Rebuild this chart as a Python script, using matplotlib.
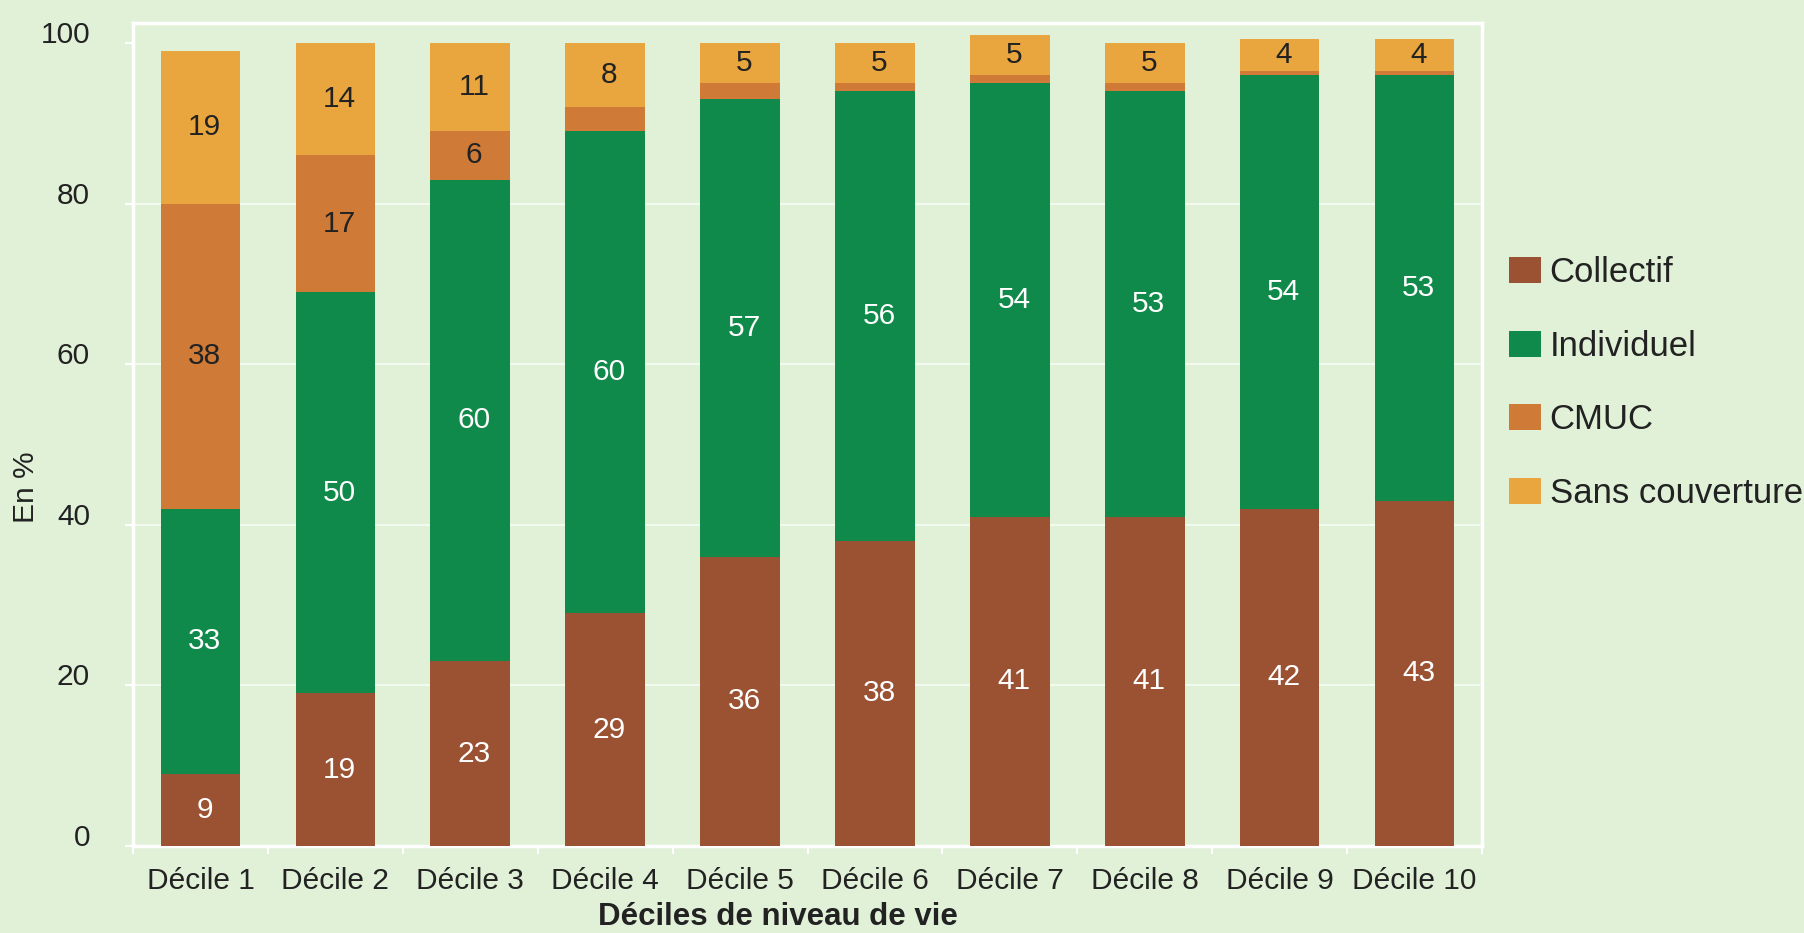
import numpy as np
import matplotlib
matplotlib.use("Agg")
import matplotlib.pyplot as plt
from matplotlib.patches import Patch
from matplotlib.transforms import ScaledTranslation

# données (en %)
deciles = ["Décile 1", "Décile 2", "Décile 3", "Décile 4", "Décile 5",
           "Décile 6", "Décile 7", "Décile 8", "Décile 9", "Décile 10"]
collectif = [9, 19, 23, 29, 36, 38, 41, 41, 42, 43]
individuel = [33, 50, 60, 60, 57, 56, 54, 53, 54, 53]
cmuc = [38, 17, 6, 3, 2, 1, 1, 1, 0.5, 0.5]
sans_couverture = [19, 14, 11, 8, 5, 5, 5, 5, 4, 4]
cmuc_labels = ["38", "17", "6", "", "", "", "", "", "", ""]

series = ["Collectif", "Individuel", "CMUC", "Sans couverture"]
colors = ["#9B5233", "#108A4A", "#D07A38", "#E9A63E"]
text_colors = ["white", "white", "#222222", "#222222"]
bg = "#E1F1D8"

plt.rcParams['font.family'] = ['Liberation Sans', 'DejaVu Sans']
fs = 21.5

fig = plt.figure(figsize=(18.04, 9.33), dpi=100, facecolor=bg)
ax = fig.add_axes([133 / 1804, 87 / 933, (1482 - 133) / 1804, (846 - 23) / 933])
ax.set_facecolor(bg)

x = np.arange(len(deciles))
values = [collectif, individuel, cmuc, sans_couverture]
labels = [[str(v) for v in collectif], [str(v) for v in individuel],
          cmuc_labels, [str(v) for v in sans_couverture]]

bottom = np.zeros(len(deciles))
for vals, col, tcol, labs in zip(values, colors, text_colors, labels):
    vals = np.array(vals, dtype=float)
    ax.bar(x, vals, bottom=bottom, width=0.59, color=col, zorder=3)
    for i in range(len(x)):
        if labs[i]:
            ax.text(x[i] + 0.03, bottom[i] + vals[i] / 2, labs[i], ha="center",
                    va="center", color=tcol, fontsize=fs, zorder=4)
    bottom += vals

ax.set_xlim(-0.5, len(deciles) - 0.5)
ax.set_ylim(0, 102.5)
ax.set_yticks([0, 20, 40, 60, 80, 100])
ax.set_xticks(x)
ax.set_xticklabels(deciles, fontsize=fs, color="#222222")
ax.set_xticks(np.arange(-0.5, len(deciles), 1), minor=True)
ax.tick_params(axis="x", which="major", length=0, pad=15)
ax.tick_params(axis="x", which="minor", length=6, color="white", width=1.5)
ax.tick_params(axis="y", length=6, color="white", width=1.5, labelsize=fs,
               labelcolor="#222222", pad=25)

for lab in ax.get_yticklabels():
    lab.set_transform(lab.get_transform() + ScaledTranslation(0, 0.11, fig.dpi_scale_trans))

for y in [20, 40, 60, 80]:
    ax.axhline(y, color="white", alpha=0.7, lw=1.2, zorder=1)

for s in ax.spines.values():
    s.set_color("white")
    s.set_linewidth(2.5)

fig.text(26 / 1804, 1 - 487 / 933, "En %", rotation=90, ha="center", va="center",
         fontsize=fs, color="#222222")
fig.text(778 / 1804, 1 - 917 / 933, "Déciles de niveau de vie", ha="center",
         va="center", fontsize=22.5, fontweight="bold", color="#222222")

handles = [Patch(facecolor=c) for c in colors]
fig.legend(handles, series, loc="center left", bbox_to_anchor=(1478 / 1804, 1 - 383 / 933),
           frameon=False, fontsize=25, handlelength=0.9, handleheight=0.78,
           handletextpad=0.26, labelspacing=1.17, labelcolor="#222222")

fig.savefig("out.png", dpi=100, facecolor=bg)
